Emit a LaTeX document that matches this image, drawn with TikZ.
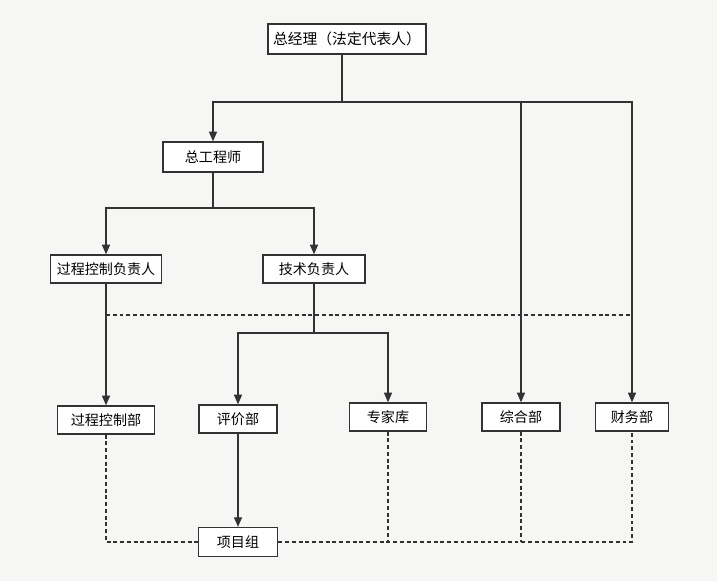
\documentclass[tikz,border=0pt]{standalone}
\usepackage{fontspec}
\setmainfont{Noto Sans CJK SC}
\usepackage{tikz}
\usetikzlibrary{arrows.meta, positioning}
\definecolor{inkGray}{RGB}{50,50,50}
\definecolor{paperGray}{RGB}{246,246,245}
\tikzset{
    post/.style={rectangle, draw=inkGray, fill=white, line width=1pt, inner sep=0pt,
                 minimum width=#1, minimum height=0.7cm, font=\fontsize{10}{12}\selectfont},
    post/.default=1.95cm,
    flow/.style={-{Triangle[length=2.4mm, width=2mm]}, line width=0.9pt, draw=inkGray},
    link/.style={line width=0.9pt, draw=inkGray},
    dflow/.style={line width=0.9pt, draw=inkGray, dash pattern=on 2.8pt off 2pt}
}
\begin{document}
\begin{tikzpicture}[x=0.025cm, y=-0.025cm]
    \fill[paperGray] (0,0) rectangle (717,581);
    \useasboundingbox (0,0) rectangle (717,581);

    \node[post=3.95cm, minimum height=0.75cm, font=\fontsize{10.5}{12}\selectfont] (gm) at (347,39) {总经理（法定代表人）};
    \node[post=2.5cm, minimum height=0.75cm] (ce) at (213,157) {总工程师};
    \node[post=2.78cm] (pc) at (106,269) {过程控制负责人};
    \node[post=2.55cm] (tl) at (314,269) {技术负责人};

    \node[post=2.43cm] (pcd) at (106,420) {过程控制部};
    \node[post=1.95cm] (pj) at (238,419) {评价部};
    \node[post=1.93cm] (zj) at (388,417) {专家库};
    \node[post=1.95cm] (zh) at (521,417) {综合部};
    \node[post=1.83cm] (cw) at (632,417) {财务部};
    \node[post=1.98cm, minimum height=0.72cm] (xm) at (238,542) {项目组};

    \coordinate (gmBus) at (342,102);
    \coordinate (ceBus) at (213,208);
    \coordinate (tlBus) at (314,333);
    \coordinate (supY) at (0,315);

    % solid lines of command
    \draw[link] (gmBus |- gm.south) -- (gmBus);
    \draw[flow] (gmBus) -| (ce);
    \draw[flow] (gmBus) -| (zh);
    \draw[flow] (gmBus) -| (cw);
    \draw[link] (ce) -- (ceBus);
    \draw[flow] (ceBus) -| (pc);
    \draw[flow] (ceBus) -| (tl);
    \draw[flow] (pc) -- (pcd);
    \draw[link] (tl) -- (tlBus);
    \draw[flow] (tlBus) -| (pj);
    \draw[flow] (tlBus) -| (zj);
    \draw[flow] (pj) -- (xm);

    % dashed lines of supervision
    \draw[dflow] (pc |- supY) -- (cw |- supY);
    \draw[dflow] (pcd) |- (xm);
    \draw[dflow] (xm) -| (cw);
    \draw[dflow] (zj) -- (zj |- xm);
    \draw[dflow] (zh) -- (zh |- xm);
\end{tikzpicture}
\end{document}
